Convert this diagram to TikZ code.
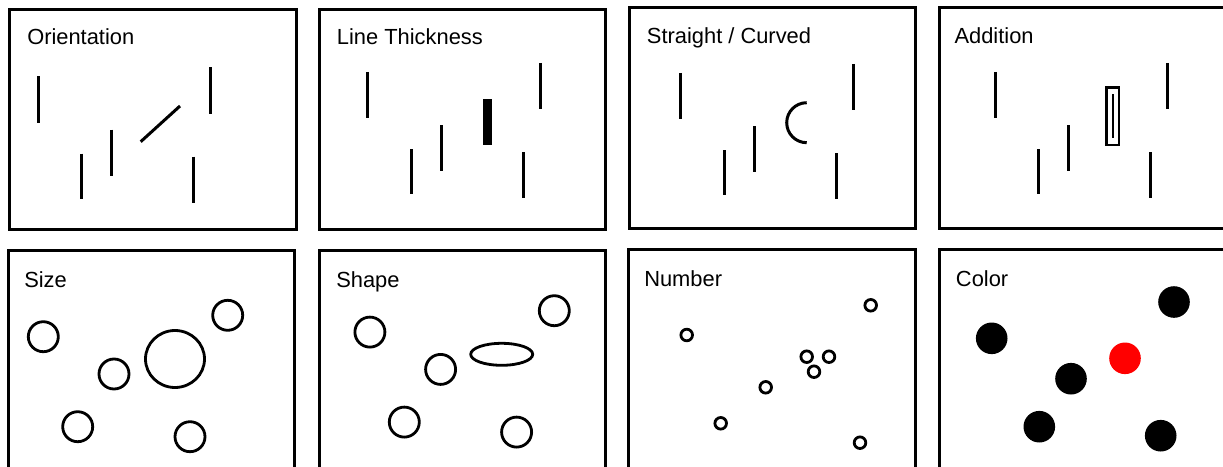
\documentclass[tikz,border=0pt]{standalone}
\usepackage{fontspec}
\setmainfont{Liberation Sans}
\usepackage{tikz}

\begin{document}
\begin{tikzpicture}[x=0.75pt, y=-0.75pt,
	panel/.style={draw=black, line width=2.25pt},
	ttl/.style={anchor=base west, inner sep=0pt, font=\fontsize{16.4}{19}\selectfont},
	bar/.style={draw=black, line width=2.25pt},
	ring/.style={draw=black, line width=2.1pt},
	dot/.style={fill=black}
	]
\useasboundingbox (0,0) rectangle (1223,467);
\clip (0,0) rectangle (1223,467);

% top row
\draw[panel] (9.5,9.5) rectangle (296,229);
\draw[panel] (319.3,9.5) rectangle (605.7,229);
\draw[panel] (629.3,8) rectangle (915.7,228);
\draw[panel] (939.3,8) rectangle (1240,228);
\node[ttl] (orient) at (27,45) {Orientation};
\node[ttl] (thick) at (336.7,45) {Line Thickness};
\node[ttl] (curve) at (646.7,44) {Straight / Curved};
\node[ttl] (addit) at (954.3,44) {Addition};

\foreach \dx/\dy in {-329.4/4.5, 0/0, 313/1, 627.6/0}{
	\begin{scope}[shift={(\dx,\dy)}]
	\foreach \x/\ya/\yb in {367.7/72/118, 411/149/194, 441/125/171, 540/63/109, 523.3/152/198}
		\draw[bar] (\x,\ya) -- (\x,\yb);
	\end{scope}
}
\draw[bar] (140.7,141.7) -- (180,106);
\fill (483.3,99) rectangle (492.3,145);
\draw[bar] (806.7,102.7) arc[start angle=-90, end angle=-270, radius=20];
\draw[ring] (1106.7,87.2) rectangle (1119,145);
\draw[ring] (1113,94) -- (1113,138);

% bottom row
\draw[panel] (8.3,250.7) rectangle (294.3,490);
\draw[panel] (319.3,250.7) rectangle (605.7,490);
\draw[panel] (628.3,249.3) rectangle (915,490);
\draw[panel] (939.3,249.3) rectangle (1240,490);
\node[ttl] (size) at (24,287.7) {Size};
\node[ttl] (shape) at (336,287.7) {Shape};
\node[ttl] (number) at (644,286) {Number};
\node[ttl] (color) at (955.7,286) {Color};

\foreach \x/\y in {43.3/336.7, 114/374, 227.7/315.3, 77.7/426.7, 190/436.7}
	\draw[ring] (\x,\y) circle[radius=15];
\draw[ring] (175,359) ellipse[x radius=29.5, y radius=28.5];
\begin{scope}[shift={(326.6,-4.6)}]
\foreach \x/\y in {43.3/336.7, 114/374, 227.7/315.3, 77.7/426.7, 190/436.7}
	\draw[ring] (\x,\y) circle[radius=15];
\end{scope}
\draw[ring] (501.7,354.3) ellipse[x radius=31, y radius=11];

\foreach \x/\y in {686.7/335, 870.7/305.3, 806.7/356.7, 829/356.7, 814/371.7, 765.7/387.3, 720.7/423.3, 860/442.7}
	\draw[ring] (\x,\y) circle[radius=5.8];

\foreach \x/\y in {991.7/338.3, 1174/302, 1071/378.7, 1039.3/426.7, 1160.7/435.7}
	\fill[dot] (\x,\y) circle[radius=15.8];
\fill[red] (1125,358.3) circle[radius=15.8];
\end{tikzpicture}
\end{document}
